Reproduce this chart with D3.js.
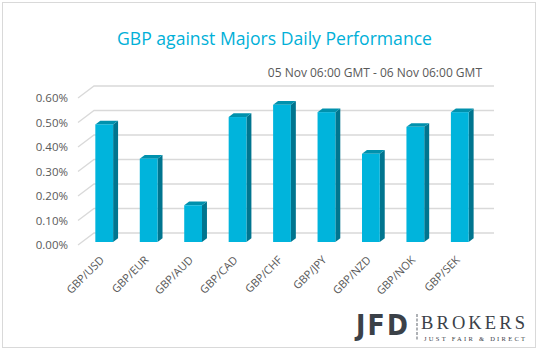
<!DOCTYPE html>
<html>
<head>
<meta charset="utf-8">
<script src="https://cdn.jsdelivr.net/npm/d3@7"></script>
<style>
  body { margin: 0; background: #fff; }
  text { font-family: "Open Sans", sans-serif; }
</style>
</head>
<body>
<div id="chart"></div>
<script>
// chart data
const pairs = ["GBP/USD", "GBP/EUR", "GBP/AUD", "GBP/CAD", "GBP/CHF", "GBP/JPY", "GBP/NZD", "GBP/NOK", "GBP/SEK"];
const change = [0.48, 0.34, 0.15, 0.51, 0.56, 0.53, 0.36, 0.47, 0.53]; // % daily change
const yTicks = [0, 0.1, 0.2, 0.3, 0.4, 0.5, 0.6];
const titleText = "GBP against Majors Daily Performance";
const subText = "05 Nov 06:00 GMT - 06 Nov 06:00 GMT";

const W = 538, H = 351;
// oblique 3d: floor front-left corner and depth vector to the back wall
const x0 = 78, y0 = 245, plotW = 400;
const depth = {dx: 16, dy: -12};
const barFront = 0.25, barBack = 0.56;

const svg = d3.select("#chart").append("svg")
    .attr("width", W).attr("height", H);

svg.append("rect")
    .attr("x", 2.5).attr("y", 2.5)
    .attr("width", 533).attr("height", 345)
    .attr("fill", "#fff").attr("stroke", "#d9d9d9");

let x = d3.scaleBand().domain(pairs).range([x0, x0 + plotW])
    .paddingInner(0.6).paddingOuter(0.3);
let y = d3.scaleLinear().domain([0, 0.6]).range([y0, y0 - 147]);

// gridlines: side wall diagonal + back wall line
const grid = svg.append("g").attr("stroke", "#d9d9d9").attr("stroke-width", 1.3).attr("fill", "none");
yTicks.forEach(t => {
    grid.append("path")
        .attr("d", `M${x0},${y(t)} L${x0 + depth.dx},${y(t) + depth.dy} L${x0 + plotW + depth.dx},${y(t) + depth.dy}`);
});

// y labels
svg.append("g").selectAll("text")
    .data(yTicks).join("text")
    .attr("x", 68).attr("y", d => y(d))
    .attr("dy", "0.35em")
    .attr("text-anchor", "end")
    .style("font-size", "11.5px").style("fill", "#595959")
    .text(d => d.toFixed(2) + "%");

// bars
const fx = depth.dx * barFront, fy = depth.dy * barFront;
const bx = depth.dx * (barBack - barFront), by = depth.dy * (barBack - barFront);
const bars = svg.append("g");
pairs.forEach((p, i) => {
    const l = x(p) + fx, r = l + x.bandwidth();
    const top = y(change[i]) + fy, bot = y(0) + fy;
    // side
    bars.append("path")
        .attr("d", `M${r},${bot} L${r + bx},${bot + by} L${r + bx},${top + by} L${r},${top} Z`)
        .attr("fill", "#00758f");
    // top
    bars.append("path")
        .attr("d", `M${l},${top} L${l + bx},${top + by} L${r + bx},${top + by} L${r},${top} Z`)
        .attr("fill", "#0091ad");
    // front
    bars.append("rect")
        .attr("x", l).attr("y", top)
        .attr("width", x.bandwidth()).attr("height", bot - top)
        .attr("fill", "#00b4dc");
});

// x labels
svg.append("g").selectAll("text")
    .data(pairs).join("text")
    .attr("transform", d => `translate(${x(d) + fx + x.bandwidth() / 2 - 2},${y0 + 13}) rotate(-45)`)
    .attr("text-anchor", "end")
    .attr("dy", "0.35em")
    .style("font-size", "11px").style("fill", "#595959")
    .text(d => d);

// titles
svg.append("text")
    .attr("x", 274.5).attr("y", 45)
    .attr("text-anchor", "middle")
    .style("font-size", "17.6px").style("fill", "#00b0d8")
    .text(titleText);

svg.append("text")
    .attr("x", 482).attr("y", 77)
    .attr("text-anchor", "end")
    .style("font-size", "12px").style("fill", "#595959")
    .text(subText);

// logo
const logo = svg.append("g");
logo.append("text")
    .attr("x", 356).attr("y", 335)
    .attr("textLength", 52)
    .style("font-family", "'Liberation Sans Narrow', 'DejaVu Sans Condensed', sans-serif")
    .style("font-weight", "bold").style("font-size", "28px")
    .style("fill", "#3b4148")
    .text("JFD");
logo.append("line")
    .attr("x1", 417).attr("x2", 417).attr("y1", 314).attr("y2", 341)
    .attr("stroke", "#7a7f85").attr("stroke-width", 1.2).attr("stroke-dasharray", "3,1.5");
logo.append("text")
    .attr("x", 421).attr("y", 328.5)
    .attr("textLength", 104)
    .style("font-family", "'Liberation Serif', serif")
    .style("font-size", "18.5px").style("fill", "#3b4148")
    .text("BROKERS");
logo.append("text")
    .attr("x", 424).attr("y", 341)
    .attr("textLength", 101)
    .style("font-family", "'Liberation Serif', serif")
    .style("font-size", "6.5px").style("fill", "#3b4148")
    .text("JUST FAIR & DIRECT");
</script>
</body>
</html>
